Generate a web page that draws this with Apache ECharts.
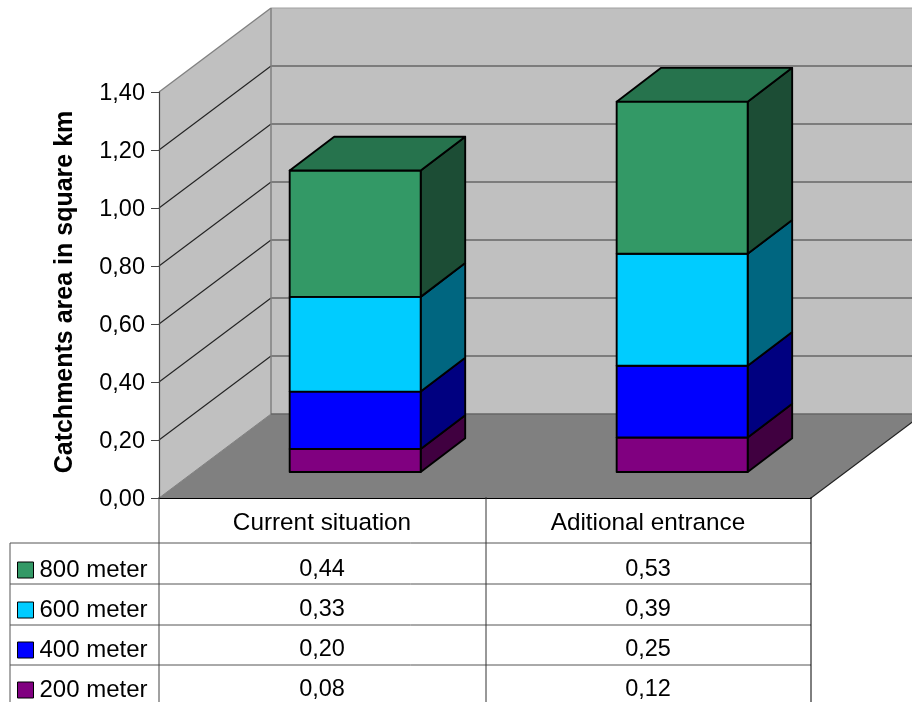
<!DOCTYPE html>
<html><head><meta charset="utf-8">
<style>html,body{margin:0;padding:0;background:#fff}#c{width:912px;height:702px}</style>
<script src="https://cdn.jsdelivr.net/npm/echarts@6/dist/echarts.min.js"></script>
</head><body><div id="c"></div>
<script>
const categories = ['Current situation', 'Aditional entrance'];
const v200 = [0.08, 0.12];
const v400 = [0.20, 0.25];
const v600 = [0.33, 0.39];
const v800 = [0.44, 0.53];
const yTicks = [0, 0.2, 0.4, 0.6, 0.8, 1.0, 1.2, 1.4];
const seriesNames = ['200 meter', '400 meter', '600 meter', '800 meter'];
const seriesValues = [v200, v400, v600, v800];
const front = ['#800080', '#0000ff', '#00ccff', '#339966'];
const side = ['#400040', '#000080', '#006680', '#1c4d35'];
const topFace = '#26734d';
const tableFont = 'Liberation Sans, Arial, sans-serif';
const DX = 112, DY = -84;            // wall depth
const IX = 32.7, IY = -26;           // bar inset from the front plane
const BX = 44.5, BY = -33.8;         // bar depth
const BW = 131;                      // bar front width
const YK = 0.99, XK = 1.003;         // depth scaling of bars
const fmt = v => v.toFixed(2).replace('.', ',');

function renderFrame(params, api) {
  const r = params.coordSys, L = r.x, R = r.x + r.width, B = r.y + r.height, T = r.y;
  const v = api.value(1), y = api.coord([0, v])[1];
  const kids = [];
  const line = (x1, y1, x2, y2, stroke, w) => kids.push({type: 'line', shape: {x1, y1, x2, y2}, style: {stroke, lineWidth: w}});
  if (params.dataIndex === 0) {
    kids.push({type: 'rect', shape: {x: L + DX, y: T + DY, width: r.width + 20, height: r.height}, style: {fill: '#c0c0c0'}});
    kids.push({type: 'polygon', shape: {points: [[L, B], [L + DX, B + DY], [L + DX, T + DY], [L, T]]}, style: {fill: '#c0c0c0'}});
  }
  if (v > 0) {
    const top = v === yTicks[yTicks.length - 1];
    line(L + DX, y + DY, R + DX, y + DY, top ? '#a0a0a0' : '#666666', top ? 1 : 1.4);
    line(L, y, L + DX, y + DY, top ? '#808080' : '#222222', top ? 1.3 : 1.1);
  }
  if (params.dataIndex === yTicks.length - 1) {
    line(L + DX, T + DY, L + DX, B + DY, '#808080', 1.5);
    kids.push({type: 'polygon', shape: {points: [[L, B], [R, B], [R + DX, B + DY], [L + DX, B + DY]]}, style: {fill: '#808080'}});
    line(L + DX, B + DY, R + DX, B + DY, '#666666', 1.3);
    line(R, B, R + DX, B + DY, '#222222', 1.1);
    line(L, B, L + DX, B + DY, '#808080', 1);
  }
  return {type: 'group', children: kids};
}

function renderBar(si) {
  return function (params, api) {
    const c = api.value(0), val = api.value(1), L = params.coordSys.x;
    let base = 0;
    for (let i = 0; i < si; i++) base += seriesValues[i][c];
    const p0 = api.coord([c, 0]), zero = p0[1];
    const yOf = a => zero + (api.coord([c, a])[1] - zero) * YK + IY;
    const x0 = L + (p0[0] - L) * XK - BW / 2 + IX, x1 = x0 + BW;
    const yb = yOf(base), yt = yOf(base + val);
    const st = fill => ({fill, stroke: '#000', lineWidth: 1.9, lineJoin: 'round'});
    const kids = [
      {type: 'polygon', shape: {points: [[x1, yb], [x1 + BX, yb + BY], [x1 + BX, yt + BY], [x1, yt]]}, style: st(side[si])},
      {type: 'rect', shape: {x: x0, y: yt, width: BW, height: yb - yt}, style: st(front[si])}
    ];
    if (si === seriesValues.length - 1) {
      kids.push({type: 'polygon', shape: {points: [[x0, yt], [x1, yt], [x1 + BX, yt + BY], [x0 + BX, yt + BY]]}, style: st(topFace)});
    }
    return {type: 'group', children: kids};
  };
}

function renderCell(rowY) {
  return function (params, api) {
    const c = api.value(0);
    return {type: 'text', style: {text: fmt(api.value(1)), x: api.coord([c, 0])[0], y: rowY,
      align: 'center', verticalAlign: 'middle', fill: '#000', font: '23.5px ' + tableFont}};
  };
}

const rowCenters = [690, 650, 610, 570];
const series = [{
  type: 'custom', name: 'frame', silent: true, clip: false, z: 1, renderItem: renderFrame,
  coordinateSystem: 'cartesian2d', data: yTicks.map(t => [0, t]), encode: {x: 0, y: 1}
}];
seriesNames.forEach((n, si) => {
  series.push({
    type: 'custom', name: n, clip: false, z: 2 + si, renderItem: renderBar(si),
    itemStyle: {color: front[si]},
    data: seriesValues[si].map((v, i) => [i, v]), encode: {x: 0, y: 1}
  });
  series.push({
    type: 'custom', name: n + ' table', silent: true, clip: false, z: 10, renderItem: renderCell(rowCenters[si]),
    data: seriesValues[si].map((v, i) => [i, v]), encode: {x: 0, y: 1}
  });
});

const hl = (y, x1, x2, c) => ({type: 'line', shape: {x1, y1: y, x2, y2: y}, style: {stroke: c || '#555', lineWidth: 1}, z: 20});
const vl = (x, y1, y2, c) => ({type: 'line', shape: {x1: x, y1, x2: x, y2}, style: {stroke: c || '#333', lineWidth: 1}, z: 20});

const chart = echarts.init(document.getElementById('c'));
chart.setOption({
  animation: false,
  backgroundColor: '#fff',
  textStyle: {fontFamily: tableFont},
  grid: {left: 159, right: 101, top: 92, bottom: 204},
  xAxis: {
    type: 'category', data: categories, boundaryGap: true,
    axisLine: {show: true, onZero: false, lineStyle: {color: '#000', width: 1.2}},
    axisTick: {show: false}, splitLine: {show: false}, z: 15,
    axisLabel: {margin: 13, color: '#000', fontSize: 24.3, fontFamily: tableFont}
  },
  yAxis: {
    type: 'value', min: 0, max: 1.4, interval: 0.2,
    axisLine: {show: true, lineStyle: {color: '#444', width: 1.2}},
    axisTick: {show: true, length: 8, lineStyle: {color: '#444', width: 1}},
    splitLine: {show: false}, z: 15,
    axisLabel: {margin: 14, color: '#000', fontSize: 23.5, fontFamily: tableFont, verticalAlign: 'top', lineHeight: 3, formatter: v => fmt(v)},
    name: 'Catchments area in square km', nameLocation: 'middle', nameRotate: 90, nameGap: 81,
    nameTextStyle: {color: '#000', fontSize: 25, fontWeight: 'bold', fontFamily: tableFont, padding: [0, 0, 0, 6]}
  },
  legend: {
    orient: 'vertical', left: 17, top: 554, height: 400, selectedMode: false, icon: 'rect',
    itemWidth: 16, itemHeight: 16, itemGap: 8, padding: 0,
    itemStyle: {borderColor: '#000', borderWidth: 1},
    textStyle: {color: '#000', fontSize: 24, fontFamily: tableFont, lineHeight: 24, padding: [8, 0, 0, 1]},
    data: seriesNames.slice().reverse()
  },
  graphic: [
    hl(543, 10, 811), hl(584, 10, 811), hl(625, 10, 811), hl(665, 10, 811),
    vl(10, 543, 702, '#555'), vl(159, 497, 702, '#444'), vl(486, 497, 702, '#333'), vl(811, 497, 702, '#000')
  ],
  series
});
</script></body></html>
